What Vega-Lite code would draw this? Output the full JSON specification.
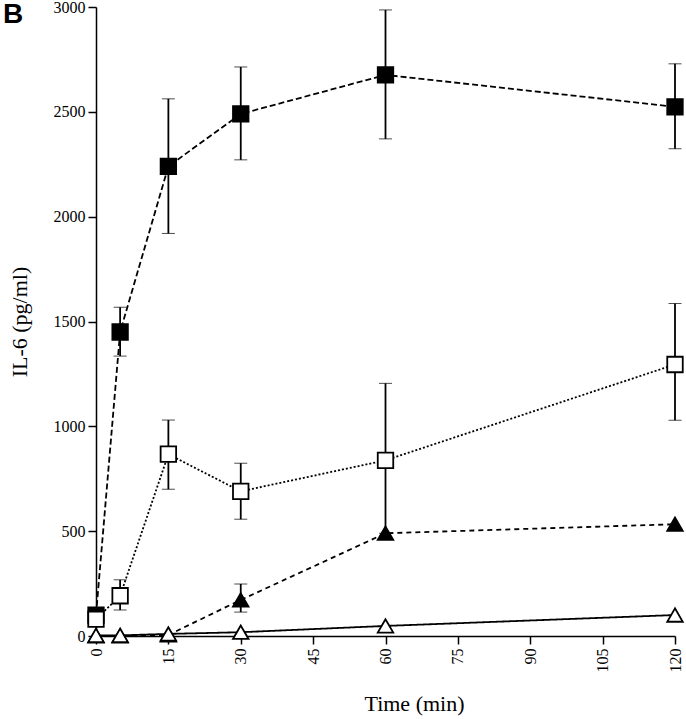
{
  "$schema": "https://vega.github.io/schema/vega-lite/v6.json",
  "width": 579,
  "height": 629,
  "autosize": "none",
  "padding": {"left": 96, "top": 7, "right": 11, "bottom": 83},
  "background": "white",
  "config": {
    "view": {"stroke": null},
    "axis": {
      "grid": false,
      "domainColor": "black",
      "tickColor": "black",
      "labelColor": "black",
      "titleColor": "black",
      "labelFont": "Liberation Serif",
      "titleFont": "Liberation Serif",
      "labelFontSize": 16,
      "titleFontSize": 22,
      "titleFontWeight": "normal",
      "tickSize": 8,
      "domainWidth": 1.5,
      "tickWidth": 1.5
    }
  },
  "title": {
    "text": "B",
    "anchor": "start",
    "frame": "group",
    "orient": "top",
    "font": "Liberation Sans",
    "fontWeight": "bold",
    "fontSize": 28,
    "color": "black",
    "baseline": "alphabetic",
    "offset": 0,
    "dx": -93,
    "dy": 52
  },
  "data": {
    "values": [
      {"series": "A", "t": 0, "v": 100, "lo": null, "hi": null},
      {"series": "A", "t": 5, "v": 1450, "lo": 1335, "hi": 1568},
      {"series": "A", "t": 15, "v": 2240, "lo": 1920, "hi": 2562},
      {"series": "A", "t": 30, "v": 2490, "lo": 2271, "hi": 2714},
      {"series": "A", "t": 60, "v": 2676, "lo": 2371, "hi": 2986},
      {"series": "A", "t": 120, "v": 2524, "lo": 2324, "hi": 2729},
      {"series": "C", "t": 0, "v": 0, "lo": null, "hi": null},
      {"series": "C", "t": 5, "v": 0, "lo": null, "hi": null},
      {"series": "C", "t": 15, "v": 5, "lo": null, "hi": null},
      {"series": "C", "t": 30, "v": 172, "lo": 114, "hi": 248},
      {"series": "C", "t": 60, "v": 490, "lo": null, "hi": null},
      {"series": "C", "t": 120, "v": 533, "lo": null, "hi": null},
      {"series": "B", "t": 0, "v": 80, "lo": null, "hi": null},
      {"series": "B", "t": 5, "v": 192, "lo": 124, "hi": 268},
      {"series": "B", "t": 15, "v": 867, "lo": 700, "hi": 1030},
      {"series": "B", "t": 30, "v": 690, "lo": 557, "hi": 824},
      {"series": "B", "t": 60, "v": 838, "lo": 490, "hi": 1205},
      {"series": "B", "t": 120, "v": 1295, "lo": 1029, "hi": 1586},
      {"series": "D", "t": 0, "v": 3, "lo": null, "hi": null},
      {"series": "D", "t": 5, "v": 3, "lo": null, "hi": null},
      {"series": "D", "t": 15, "v": 10, "lo": null, "hi": null},
      {"series": "D", "t": 30, "v": 18, "lo": null, "hi": null},
      {"series": "D", "t": 60, "v": 48, "lo": null, "hi": null},
      {"series": "D", "t": 120, "v": 100, "lo": null, "hi": null}
    ]
  },
  "encoding": {
    "x": {
      "field": "t",
      "type": "quantitative",
      "scale": {"domain": [0, 120], "nice": false, "zero": false},
      "axis": {
        "values": [0, 15, 30, 45, 60, 75, 90, 105, 120],
        "labelAngle": 270,
        "labelPadding": 4,
        "title": "Time (min)",
        "titleX": 318,
        "titleY": 74,
        "titleBaseline": "alphabetic"
      }
    }
  },
  "layer": [
    {
      "mark": {"type": "line", "color": "black", "strokeWidth": 1.8},
      "encoding": {
        "y": {
          "field": "v",
          "type": "quantitative",
          "scale": {"domain": [0, 3000], "nice": false},
          "axis": {
            "values": [0, 500, 1000, 1500, 2000, 2500, 3000],
            "format": "d",
            "labelPadding": 3,
            "title": "IL-6 (pg/ml)",
            "titlePadding": 22
          }
        },
        "detail": {"field": "series"},
        "strokeDash": {
          "field": "series",
          "type": "nominal",
          "scale": {"domain": ["A", "B", "C", "D"], "range": [[6, 3], [2, 2], [5, 4], [1, 0]]},
          "legend": null
        }
      }
    },
    {
      "transform": [{"filter": "datum.lo != null"}],
      "mark": {
        "type": "errorbar",
        "color": "black",
        "ticks": {"size": 13, "color": "black", "strokeWidth": 1.8},
        "rule": {"strokeWidth": 1.8, "color": "black"}
      },
      "encoding": {
        "y": {"field": "lo", "type": "quantitative", "title": "IL-6 (pg/ml)"},
        "y2": {"field": "hi"}
      }
    },
    {
      "mark": {"type": "point", "filled": true, "stroke": "black", "strokeWidth": 1.8, "size": 240, "opacity": 1},
      "encoding": {
        "y": {"field": "v", "type": "quantitative", "title": "IL-6 (pg/ml)"},
        "shape": {
          "field": "series",
          "type": "nominal",
          "scale": {"domain": ["A", "B", "C", "D"], "range": ["square", "square", "triangle-up", "triangle-up"]},
          "legend": null
        },
        "fill": {
          "field": "series",
          "type": "nominal",
          "scale": {"domain": ["A", "B", "C", "D"], "range": ["black", "white", "black", "white"]},
          "legend": null
        }
      }
    }
  ]
}
